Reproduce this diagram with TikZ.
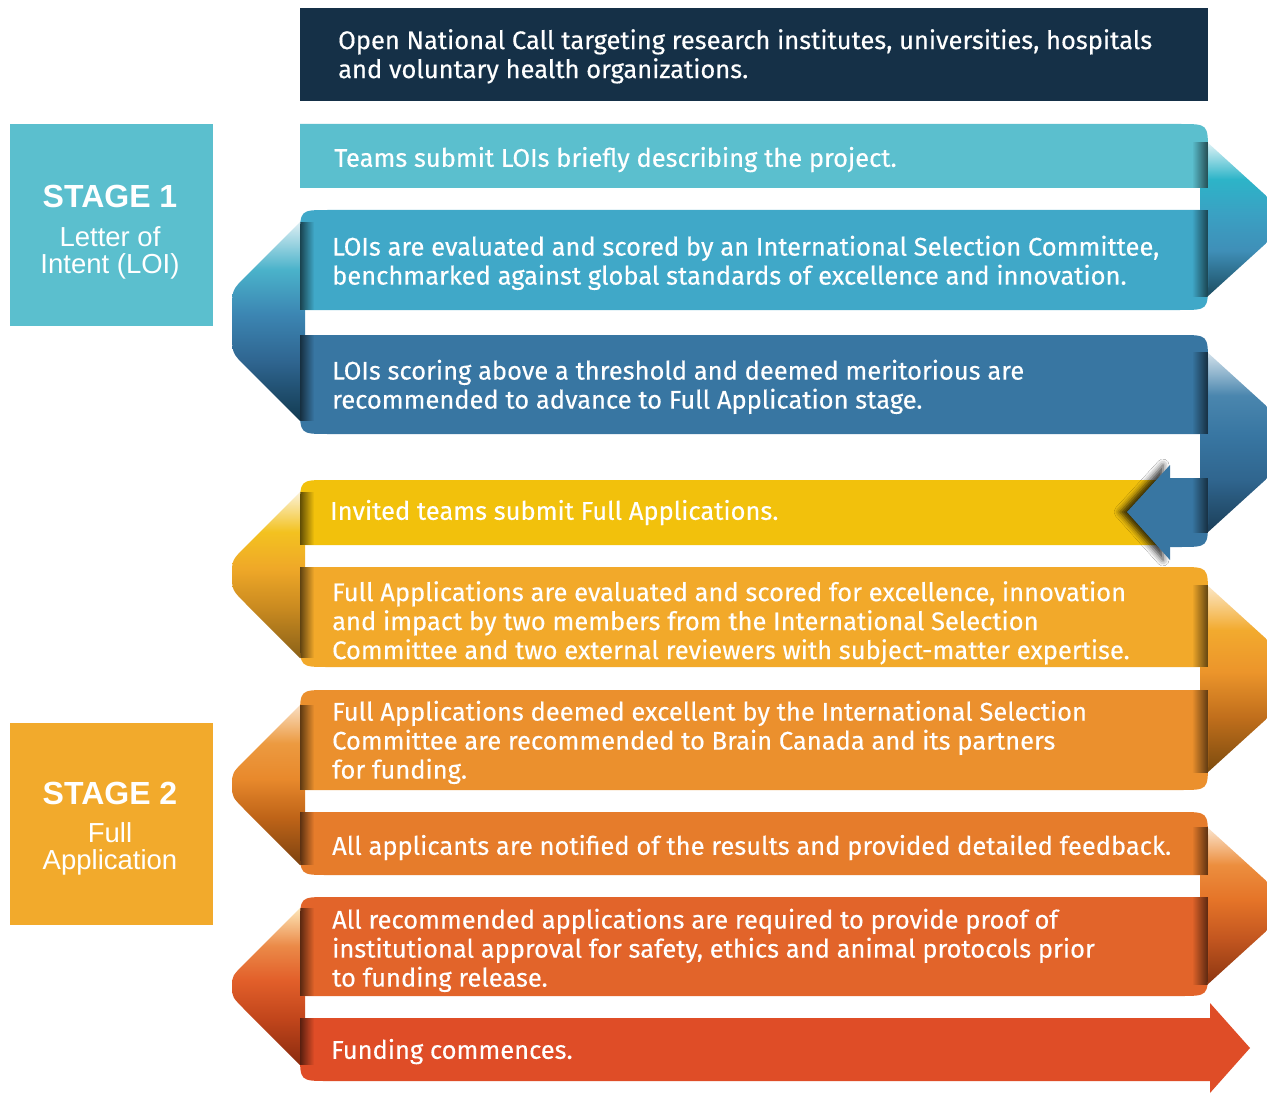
\documentclass[tikz,border=0pt]{standalone}
\usepackage{fontspec}
\setmainfont{Fira Sans}[FakeBold=0.35]
\newfontfamily\bandfont{Fira Sans}[FakeBold=0.35]
\newfontfamily\stagefont{Liberation Sans}
\usetikzlibrary{fadings,shadows.blur}

\definecolor{navy}{HTML}{153047}
\definecolor{cA}{HTML}{5BBFCE}
\definecolor{cB}{HTML}{40A8C8}
\definecolor{cC}{HTML}{3876A2}
\definecolor{cD}{HTML}{F2C10C}
\definecolor{cE}{HTML}{F2A92A}
\definecolor{cF}{HTML}{EB902D}
\definecolor{cG}{HTML}{E67C2B}
\definecolor{cH}{HTML}{E2642A}
\definecolor{cI}{HTML}{DF4D27}
\definecolor{stA}{HTML}{5BBFCE}
\definecolor{stB}{HTML}{F2AA2C}

% name, top -> bottom colours
\newcommand\mkfold[6]{%
  \definecolor{#1a}{HTML}{#2}\definecolor{#1b}{HTML}{#3}\definecolor{#1c}{HTML}{#4}%
  \definecolor{#1d}{HTML}{#5}\definecolor{#1e}{HTML}{#6}%
  \pgfdeclareverticalshading{#1}{100bp}{color(0bp)=(#1e); color(25bp)=(#1e); color(40bp)=(#1d); color(52bp)=(#1c); color(63bp)=(#1b); color(75bp)=(#1a); color(100bp)=(#1a)}}
\mkfold{fRa}{E3F4F7}{2DB4C8}{3AA1C3}{3F8FB8}{1B4B5E}
\mkfold{fLa}{DCEEF3}{4AB2CA}{3C86B3}{2F6590}{123A50}
\mkfold{fRb}{D5E3EC}{4A86AE}{3876A2}{30668F}{1B3E58}
\mkfold{fLb}{FBF2D8}{F3C220}{EFA828}{C98A20}{8A6118}
\mkfold{fRc}{FCE8C8}{F2AA2E}{EC952B}{C16F1C}{7A4A0E}
\mkfold{fLc}{F9DEC2}{EC9A40}{E8892C}{BF6418}{7C4210}
\mkfold{fRd}{FBE5CE}{EC8E3E}{E57428}{C45720}{8A3511}
\mkfold{fLd}{FDE6B8}{EB8A48}{E25F2A}{C2461C}{8A2B0E}

\newcommand\rfold[3]{%
  \shade[shading=#1] (1200,#2) -- (1207,#2) -- ({1207+0.55*(#3-#2)},{(#2+#3)/2}) -- (1207,#3) -- (1200,#3) -- cycle;}
\newcommand\lfold[3]{%
  \pgfmathsetmacro\lfA{#2+68}%
  \pgfmathsetmacro\lfB{#3-68}%
  \pgfmathsetmacro\lfR{min(20,(#3-#2-136)/2)}%
  \shade[shading=#1] (305,#2) -- (300,#2) -- (246,{\lfA-14}) .. controls (232,\lfA) .. (232,{\lfA+\lfR}) -- (232,{\lfB-\lfR}) .. controls (232,\lfB) .. (246,{\lfB+14}) -- (300,#3) -- (305,#3) -- cycle;}
\newcommand\rshadow[3]{\begin{scope}\clip #1; \fill[black,opacity=.6,path fading=west] (1192,#2) rectangle (1208,#3);\end{scope}}
\newcommand\lshadow[3]{\begin{scope}\clip #1; \fill[black,opacity=.6,path fading=east] (300,#2) rectangle (314,#3);\end{scope}}

\def\bandA{(300,124) -- (1180,124) .. controls (1208,124) .. (1208,152) -- (1208,188) -- (300,188) -- cycle}
\def\bandB{(300,310) -- (300,238) .. controls (300,210) .. (328,210) -- (1208,210) -- (1208,282) .. controls (1208,310) .. (1180,310) -- cycle}
\def\bandC{(300,335) -- (1180,335) .. controls (1208,335) .. (1208,363) -- (1208,434) -- (328,434) .. controls (300,434) .. (300,406) -- cycle}
\def\bandD{(300,545) -- (300,508) .. controls (300,480) .. (328,480) -- (1172,480) -- (1172,545) -- cycle}
\def\bandDs{(1170,478) -- (1208,478) -- (1208,519) .. controls (1208,547) .. (1180,547) -- (1170,547) -- cycle}
\def\bandE{(300,567) -- (1180,567) .. controls (1208,567) .. (1208,595) -- (1208,667) -- (328,667) .. controls (300,667) .. (300,639) -- cycle}
\def\bandF{(300,790) -- (300,718) .. controls (300,690) .. (328,690) -- (1208,690) -- (1208,762) .. controls (1208,790) .. (1180,790) -- cycle}
\def\bandG{(300,812) -- (1180,812) .. controls (1208,812) .. (1208,840) -- (1208,875) -- (328,875) .. controls (300,875) .. (300,847) -- cycle}
\def\bandH{(300,996) -- (300,925) .. controls (300,897) .. (328,897) -- (1208,897) -- (1208,968) .. controls (1208,996) .. (1180,996) -- cycle}
\def\bandI{(300,1018) -- (1210,1018) -- (1210,1003) -- (1250,1048) -- (1210,1093) -- (1210,1081) -- (328,1081) .. controls (300,1081) .. (300,1053) -- cycle}

\begin{document}
\begin{tikzpicture}[x=1pt,y=-1pt,
  bandtext/.style={anchor=west, inner sep=0pt, text=white, align=left,
    font=\bandfont\fontsize{25.5}{29}\selectfont,
    execute at begin node=\strut, execute at end node=\strut},
  stagetitle/.style={inner sep=0pt, text=white, font=\stagefont\bfseries\fontsize{32}{32}\selectfont},
  stagesub/.style={inner sep=0pt, text=white, align=center, font=\stagefont\fontsize{27.5}{27}\selectfont,
    execute at begin node=\strut, execute at end node=\strut}]
\useasboundingbox (0,0) rectangle (1267,1094);
\clip (0,0) rectangle (1267,1094);
\fill[white] (0,0) rectangle (1267,1094);

% folds
\rfold{fRa}{142}{297}
\lfold{fLa}{222}{421}
\rfold{fRb}{352}{533}
\lfold{fLb}{492}{658}
\rfold{fRc}{585}{773}
\lfold{fLc}{705}{865}
\rfold{fRd}{827}{985}
\lfold{fLd}{908}{1065}

% bands
\fill[cA] \bandA;
\fill[cB] \bandB;
\fill[cC] \bandC;
\fill[cD] \bandD;
\fill[cE] \bandE;
\fill[cF] \bandF;
\fill[cG] \bandG;
\fill[cH] \bandH;
\fill[cI] \bandI;

% return arrow into band 4 (shadow kept on its left side)
\begin{scope}
  \clip (1000,430) rectangle (1170,590);
  \fill[cC, blur shadow={shadow xshift=-7pt, shadow yshift=0pt, shadow blur radius=6pt, shadow opacity=80}]
    (1170,465) -- (1127,512) -- (1170,560) -- cycle;
\end{scope}
\fill[cC] \bandDs;

% shadows at the folds
\rshadow{\bandA}{142}{188}
\rshadow{\bandB}{210}{297}
\rshadow{\bandC}{352}{434}
\rshadow{\bandDs}{478}{533}
\rshadow{\bandE}{585}{667}
\rshadow{\bandF}{690}{773}
\rshadow{\bandG}{827}{875}
\rshadow{\bandH}{897}{985}
\lshadow{\bandB}{222}{310}
\lshadow{\bandC}{335}{421}
\lshadow{\bandD}{492}{545}
\lshadow{\bandE}{567}{658}
\lshadow{\bandF}{705}{790}
\lshadow{\bandG}{812}{865}
\lshadow{\bandH}{908}{996}
\lshadow{\bandI}{1018}{1065}

% top box
\fill[navy] (300,8) rectangle (1208,101);
\node[bandtext] (ttop) at (338,58) {Open National Call targeting research institutes, universities, hospitals\\and voluntary health organizations.};

% stage boxes
\fill[stA] (10,124) rectangle (213,326);
\node[stagetitle] (s1t) at (110,196) {STAGE 1};
\node[stagesub] (s1s) at (110,254.5) {Letter of\\Intent (LOI)};
\fill[stB] (10,723) rectangle (213,925);
\node[stagetitle] (s2t) at (110,793) {STAGE 2};
\node[stagesub] (s2s) at (110,850.5) {Full\\Application};

% band texts
\node[bandtext] (tA) at (334,161) {Teams submit LOIs briefly describing the project.};
\node[bandtext] (tB) at (332,264.5) {LOIs are evaluated and scored by an International Selection Committee,\\benchmarked against global standards of excellence and innovation.};
\node[bandtext] (tC) at (332,388.5) {LOIs scoring above a threshold and deemed meritorious are\\recommended to advance to Full Application stage.};
\node[bandtext] (tD) at (330,514) {Invited teams submit Full Applications.};
\node[bandtext] (tE) at (332,624.5) {Full Applications are evaluated and scored for excellence, innovation\\and impact by two members from the International Selection\\Committee and two external reviewers with subject-matter expertise.};
\node[bandtext] (tF) at (332,744) {Full Applications deemed excellent by the International Selection\\Committee are recommended to Brain Canada and its partners\\for funding.};
\node[bandtext] (tG) at (332,849) {All applicants are notified of the results and provided detailed feedback.};
\node[bandtext] (tH) at (332,952) {All recommended applications are required to provide proof of\\institutional approval for safety, ethics and animal protocols prior\\to funding release.};
\node[bandtext] (tI) at (331,1053) {Funding commences.};
\end{tikzpicture}
\end{document}
